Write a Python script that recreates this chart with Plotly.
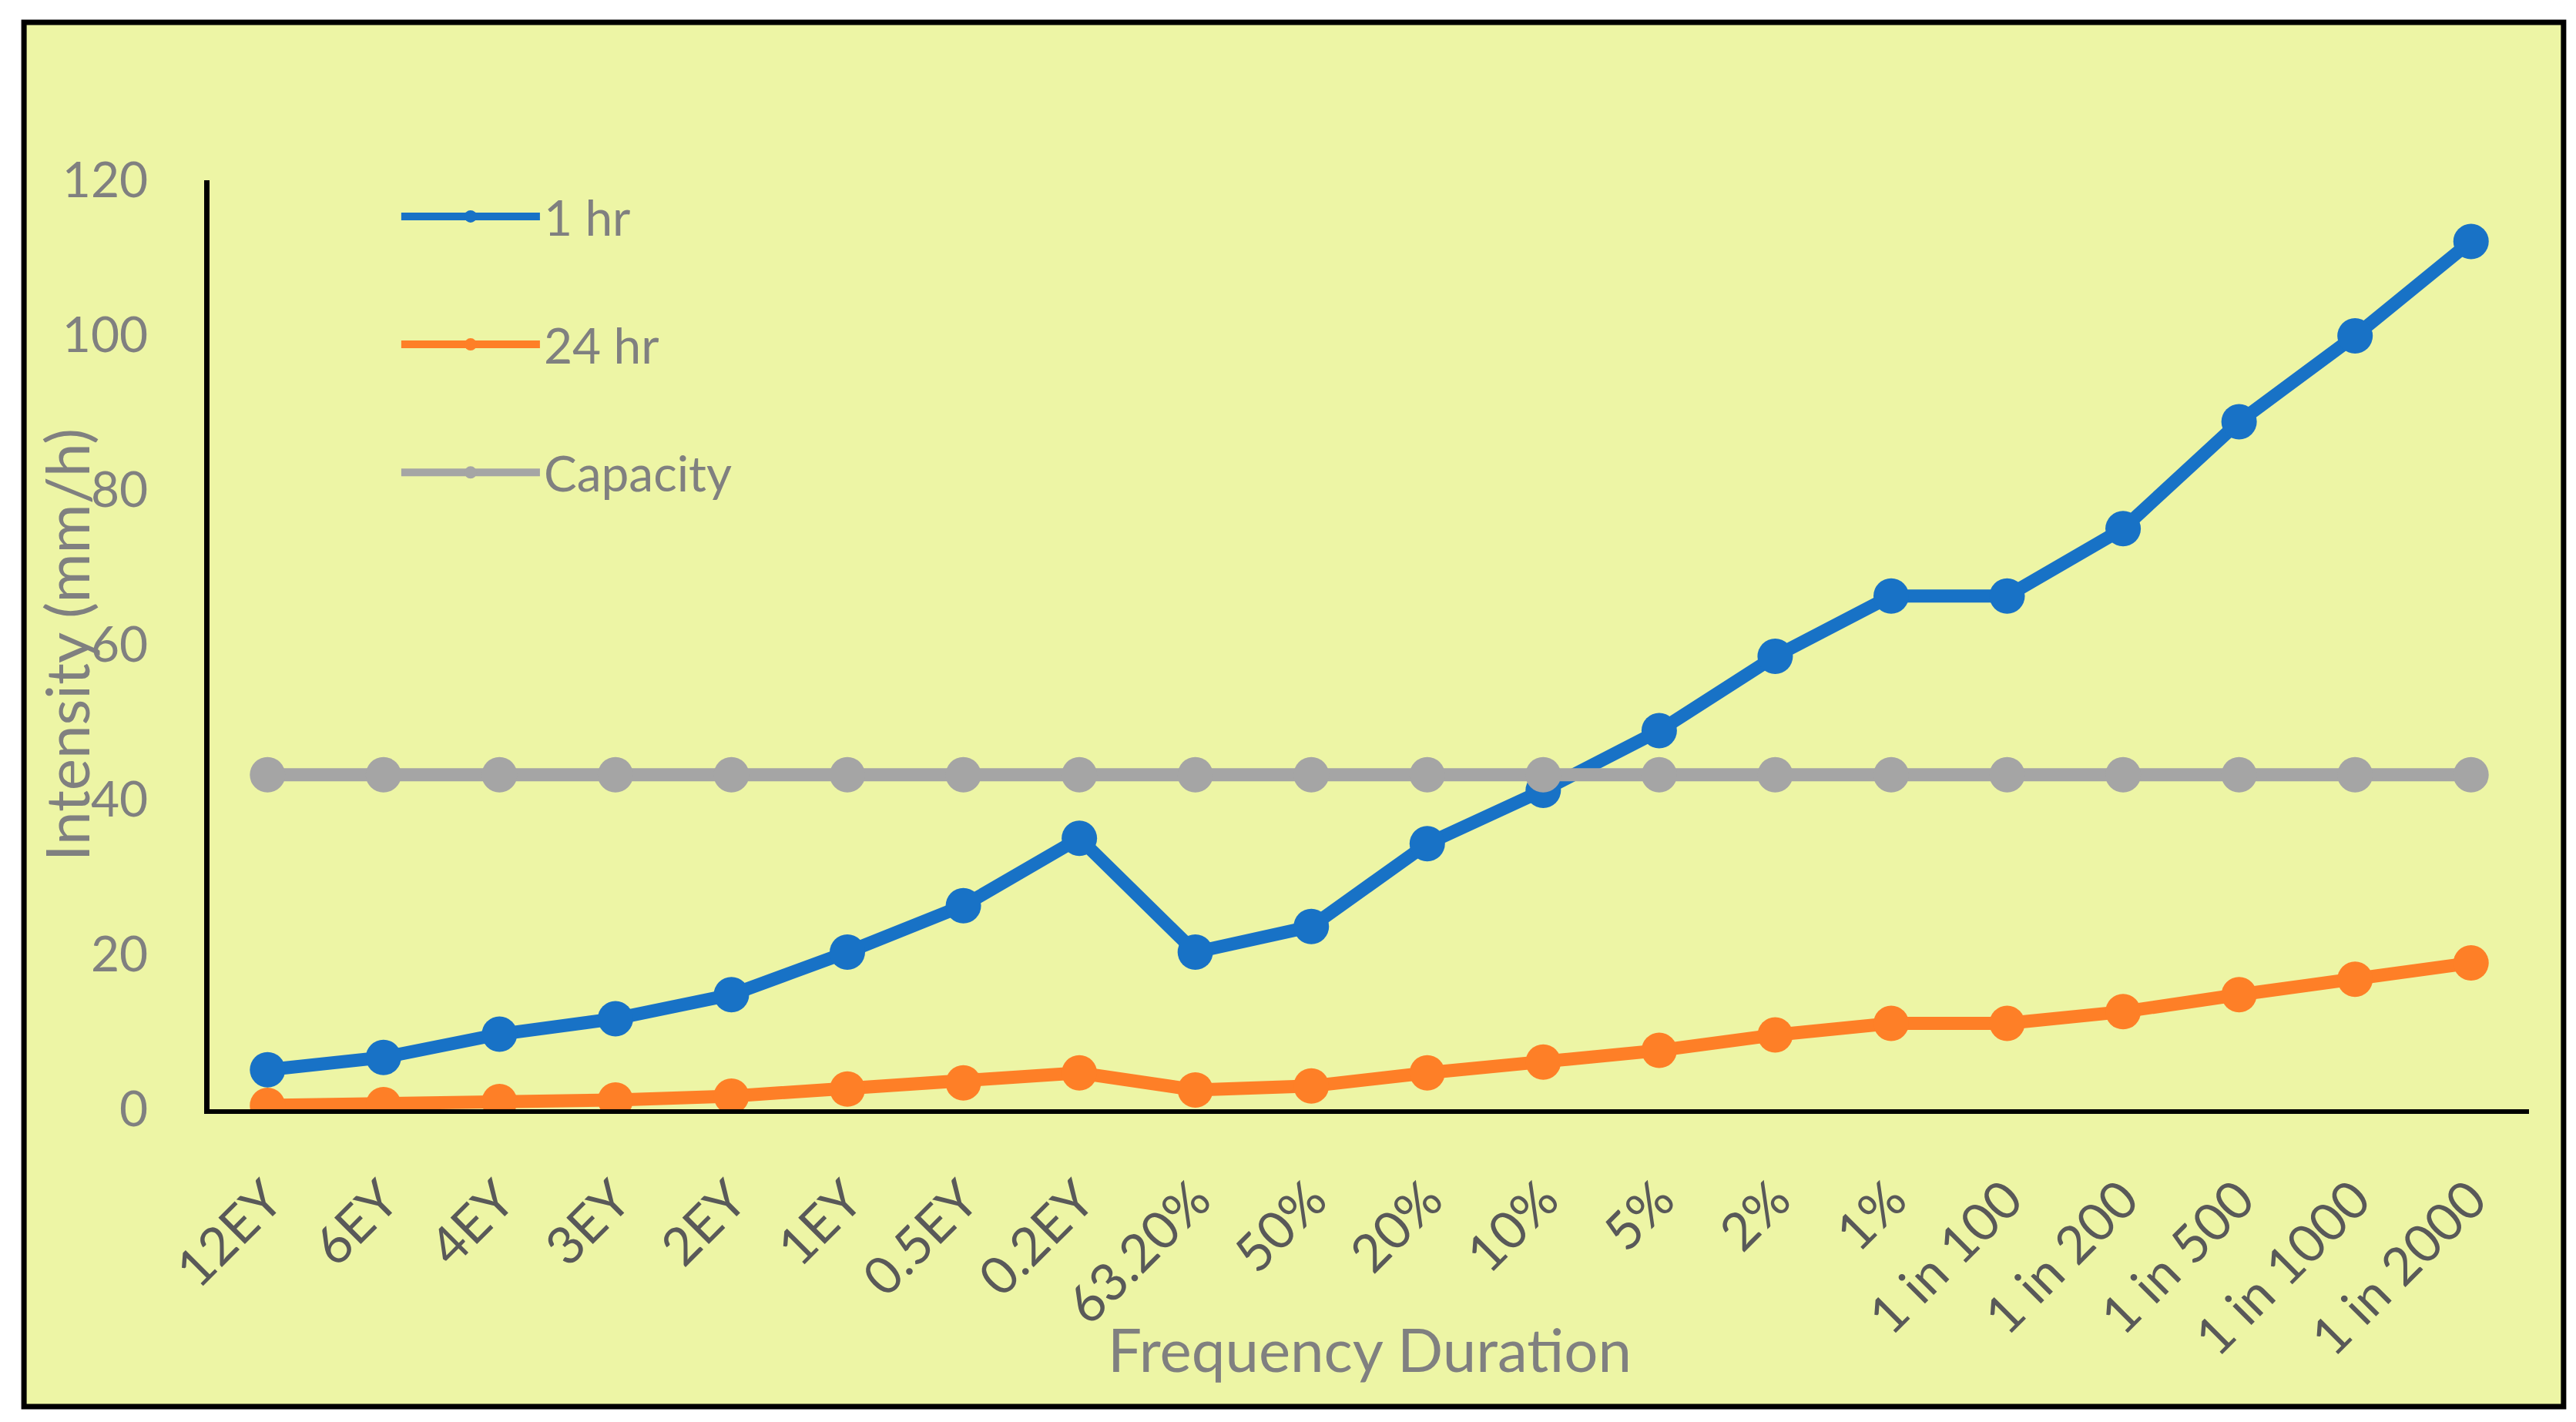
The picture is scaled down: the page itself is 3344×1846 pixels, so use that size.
import plotly.graph_objects as go

# Return-period categories along the x axis
categories = ["12EY", "6EY", "4EY", "3EY", "2EY", "1EY", "0.5EY", "0.2EY", "63.20%", "50%",
              "20%", "10%", "5%", "2%", "1%", "1 in 100", "1 in 200", "1 in 500", "1 in 1000", "1 in 2000"]

# Rainfall intensity (mm/h)
intensity_1hr = [5.1, 6.7, 9.7, 11.7, 14.8, 20.3, 26.3, 35.0, 20.3, 23.6,
                 34.3, 41.2, 48.9, 58.5, 66.3, 66.3, 75.0, 88.8, 99.9, 112.1]
intensity_24hr = [0.5, 0.6, 1.0, 1.2, 1.7, 2.6, 3.4, 4.7, 2.5, 3.0,
                  4.7, 6.1, 7.6, 9.6, 11.1, 11.1, 12.6, 14.8, 16.8, 18.9]
capacity = [43.2] * len(categories)

y_ticks = [0, 20, 40, 60, 80, 100, 120]

FONT = "Lato, Open Sans, sans-serif"
GREY = "#808080"
BG = "#EDF5A5"

series = [
    ("1 hr", intensity_1hr, "#1872C6"),
    ("24 hr", intensity_24hr, "#FE7F27"),
    ("Capacity", capacity, "#A5A5A5"),
]

fig = go.Figure()

for name, values, colour in series:
    fig.add_trace(
        go.Scatter(
            x=categories,
            y=values,
            mode="lines+markers",
            name=name,
            legendgroup=name,
            line=dict(color=colour, width=17),
            marker=dict(color=colour, size=46),
        )
    )

fig.update_layout(
    width=3344,
    height=1846,
    margin=dict(l=264, r=69, t=226, b=414),
    paper_bgcolor="white",
    plot_bgcolor=BG,
    font=dict(family=FONT, color=GREY, size=64),
    showlegend=True,
    legend=dict(
        x=0.081,
        y=1.001,
        xanchor="left",
        yanchor="top",
        bgcolor="rgba(0,0,0,0)",
        font=dict(family=FONT, size=64, color=GREY),
        traceorder="grouped",
        tracegroupgap=80,
        itemwidth=180,
    ),
    xaxis=dict(
        type="category",
        range=[-0.5, len(categories) - 0.5],
        showgrid=False,
        zeroline=False,
        showline=True,
        linecolor="black",
        linewidth=6,
        ticks="",
        tickangle=-45,
        tickfont=dict(family=FONT, size=68, color="#595959"),
        ticklabelstandoff=44,
    ),
    yaxis=dict(
        range=[0, 120],
        tickvals=y_ticks,
        showgrid=False,
        zeroline=False,
        showline=True,
        linecolor="black",
        linewidth=7,
        ticks="",
        tickfont=dict(family=FONT, size=64, color=GREY),
        ticklabelstandoff=60,
    ),
    # outer chart frame
    shapes=[
        dict(
            type="rect", xref="paper", yref="paper",
            x0=-0.080, x1=1.0149, y0=-0.3201, y1=1.170,
            line=dict(color="black", width=7),
            fillcolor=BG,
            layer="below",
        )
    ],
    annotations=[
        dict(
            text="Frequency Duration", xref="paper", yref="paper",
            x=0.5, y=-0.258, xanchor="center", yanchor="middle",
            showarrow=False, font=dict(family=FONT, size=78, color=GREY),
        ),
        dict(
            text="Intensity (mm/h)", xref="paper", yref="paper",
            x=-0.0617, y=0.5, xanchor="center", yanchor="middle", textangle=-90,
            showarrow=False, font=dict(family=FONT, size=78, color=GREY),
        ),
    ],
)

fig.write_html("out.html")
